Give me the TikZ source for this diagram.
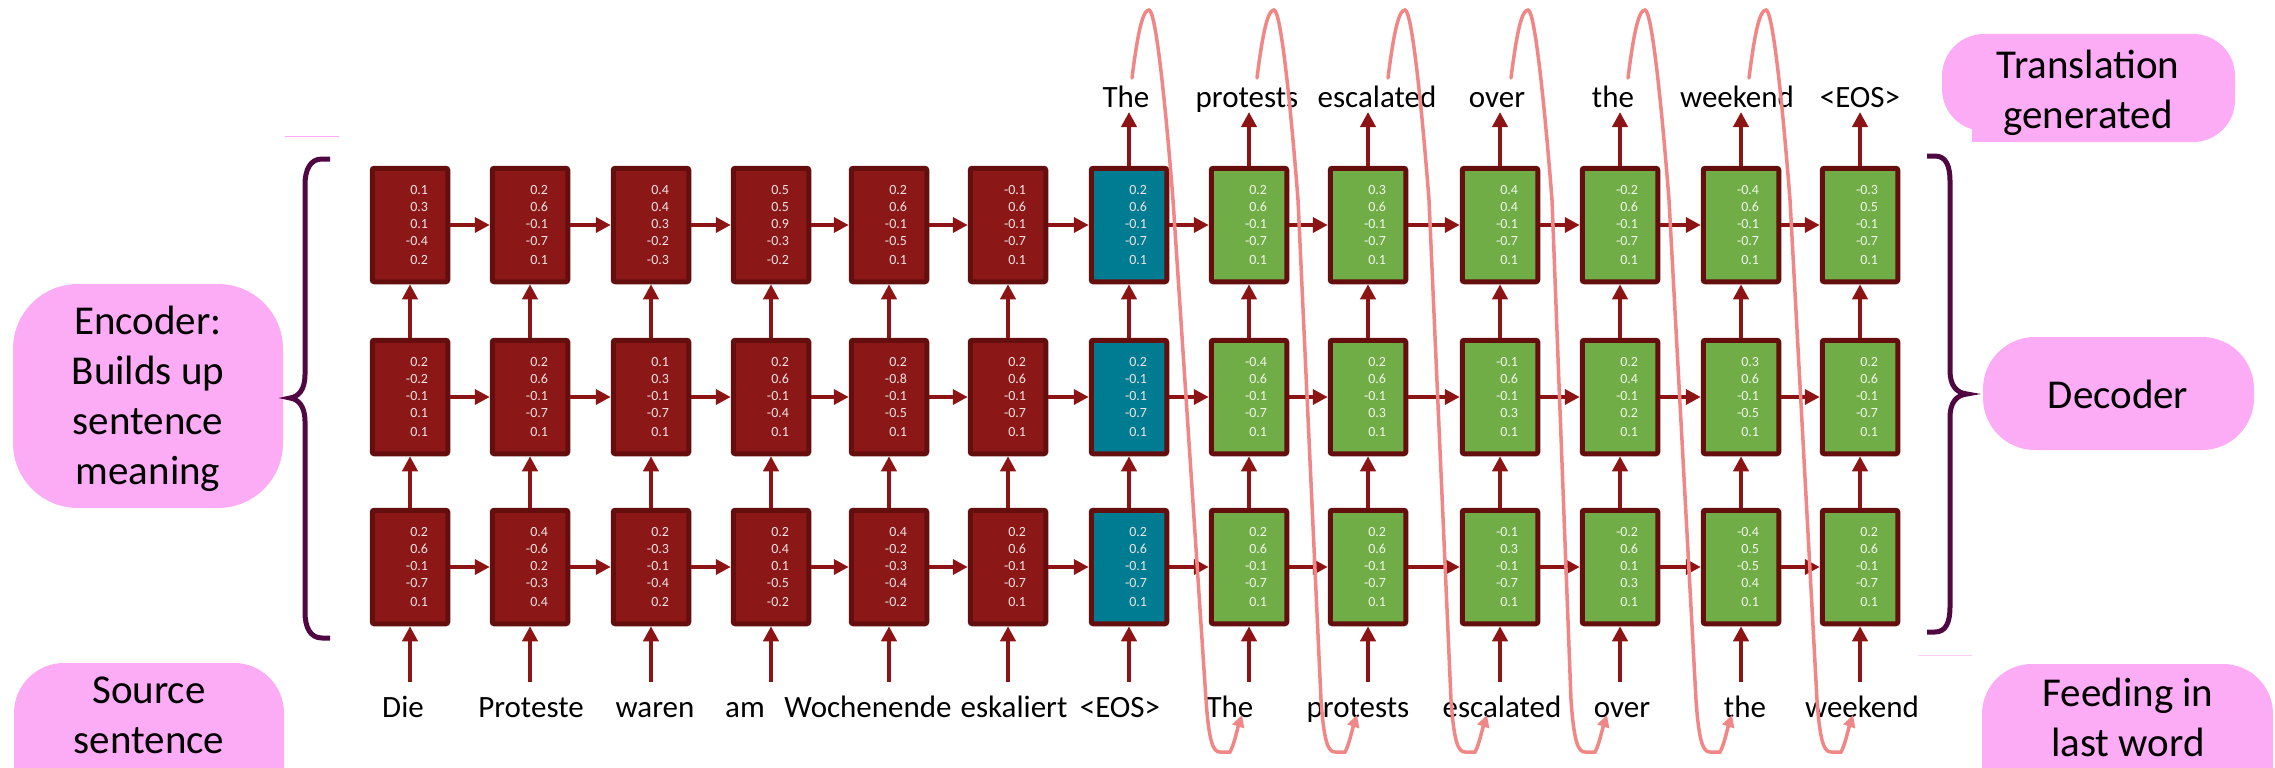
\documentclass[tikz,border=0pt]{standalone}
\usepackage{fontspec}
\setmainfont{Carlito}
\usetikzlibrary{arrows.meta}
\definecolor{encf}{RGB}{139,23,23}
\definecolor{tealf}{RGB}{0,124,146}
\definecolor{grnf}{RGB}{112,173,71}
\definecolor{bordc}{RGB}{100,14,14}
\definecolor{arrc}{RGB}{140,20,20}
\definecolor{numE}{RGB}{240,228,228}
\definecolor{numG}{RGB}{242,248,236}
\definecolor{pinkc}{RGB}{252,171,245}
\definecolor{curvc}{RGB}{240,134,134}
\definecolor{bracec}{RGB}{80,8,66}
\newcommand\vv[5]{#1\\#2\\#3\\#4\\[2pt]#5}
\tikzset{
 box/.style={draw=bordc, line width=5pt, rounded corners=2pt, minimum width=75.5pt, minimum height=113.5pt, text width=36pt, inner xsep=19.75pt, inner ysep=0pt, align=right, font=\fontsize{14}{17}\selectfont},
 enc/.style={fill=encf, text=numE},
 tea/.style={fill=tealf, text=numE},
 grn/.style={fill=grnf, text=numG},
 arr/.style={draw=arrc, line width=4pt, -{Triangle[length=15pt,width=15pt]}},
 word/.style={anchor=base, inner sep=0pt, font=\fontsize{31}{37}\selectfont},
 pill/.style={fill=pinkc},
 ptext/.style={font=\fontsize{41}{50}\selectfont, align=center, inner sep=0pt, anchor=north},
 curve/.style={draw=curvc, line width=3.5pt, line cap=round, -{Triangle[length=12pt,width=12pt]}},
 brace/.style={draw=bracec, line width=5pt},
}
\begin{document}
\begin{tikzpicture}[x=1pt,y=-1pt]
\useasboundingbox (0,0) rectangle (2275,768);
\clip (0,0) rectangle (2275,768);
% pills
\fill[pill, rounded corners=65pt] (13,284) rectangle (283,508);
\node[ptext] (encl) at (148,306) {Encoder:\\Builds up\\sentence\\meaning};
\fill[pill, rounded corners=50pt] (14,663) rectangle (284,840);
\node[ptext] (srcl) at (149,677) {Source\\sentence};
\fill[pill, rounded corners=42pt] (1942,34) rectangle (2235,131);
\fill[pill, rounded corners=42pt] (1972,50) rectangle (2235,142);
\fill[pill] (1972,100) rectangle (2010,142);
\node[ptext] (trl) at (2088,50) {Translation\\generated};
\fill[pill, rounded corners=52pt] (1983,337) rectangle (2254,450);
\node[ptext] (decl) at (2118,380) {Decoder};
\fill[pill, rounded corners=50pt] (1982,664) rectangle (2273,840);
\node[ptext] (feedl) at (2128,678) {Feeding in\\last word};
\draw[pinkc, line width=1pt] (285,136) -- (339,136);
\draw[pinkc!60, line width=1pt] (1918,655) -- (1972,655);
% braces
\draw[brace] (330,159) -- (322,159) .. controls (310,159) and (305,170) .. (305,185) -- (305,375) .. controls (305,390) and (298,397) .. (290,398) .. controls (298,399) and (305,406) .. (305,421) -- (305,612) .. controls (305,627) and (310,638) .. (322,638) -- (330,638);
\draw[brace] (1927,156) -- (1935,156) .. controls (1946,156) and (1950,166) .. (1950,181) -- (1950,371) .. controls (1950,386) and (1957,393) .. (1967,394) .. controls (1957,395) and (1950,402) .. (1950,417) -- (1950,607) .. controls (1950,622) and (1946,632) .. (1935,632) -- (1927,632);
% top row
\foreach \c/\x/\s/\v in {
 0/410/enc/{\vv{0.1}{0.3}{0.1}{-0.4}{0.2}},
 1/530/enc/{\vv{0.2}{0.6}{-0.1}{-0.7}{0.1}},
 2/651/enc/{\vv{0.4}{0.4}{0.3}{-0.2}{-0.3}},
 3/771/enc/{\vv{0.5}{0.5}{0.9}{-0.3}{-0.2}},
 4/889/enc/{\vv{0.2}{0.6}{-0.1}{-0.5}{0.1}},
 5/1008/enc/{\vv{-0.1}{0.6}{-0.1}{-0.7}{0.1}},
 6/1129/tea/{\vv{0.2}{0.6}{-0.1}{-0.7}{0.1}},
 7/1249/grn/{\vv{0.2}{0.6}{-0.1}{-0.7}{0.1}},
 8/1368/grn/{\vv{0.3}{0.6}{-0.1}{-0.7}{0.1}},
 9/1500/grn/{\vv{0.4}{0.4}{-0.1}{-0.7}{0.1}},
 10/1620/grn/{\vv{-0.2}{0.6}{-0.1}{-0.7}{0.1}},
 11/1741/grn/{\vv{-0.4}{0.6}{-0.1}{-0.7}{0.1}},
 12/1860/grn/{\vv{-0.3}{0.5}{-0.1}{-0.7}{0.1}}}
 \node[box,\s] (b3-\c) at (\x,225) {\v};
% middle row
\foreach \c/\x/\s/\v in {
 0/410/enc/{\vv{0.2}{-0.2}{-0.1}{0.1}{0.1}},
 1/530/enc/{\vv{0.2}{0.6}{-0.1}{-0.7}{0.1}},
 2/651/enc/{\vv{0.1}{0.3}{-0.1}{-0.7}{0.1}},
 3/771/enc/{\vv{0.2}{0.6}{-0.1}{-0.4}{0.1}},
 4/889/enc/{\vv{0.2}{-0.8}{-0.1}{-0.5}{0.1}},
 5/1008/enc/{\vv{0.2}{0.6}{-0.1}{-0.7}{0.1}},
 6/1129/tea/{\vv{0.2}{-0.1}{-0.1}{-0.7}{0.1}},
 7/1249/grn/{\vv{-0.4}{0.6}{-0.1}{-0.7}{0.1}},
 8/1368/grn/{\vv{0.2}{0.6}{-0.1}{0.3}{0.1}},
 9/1500/grn/{\vv{-0.1}{0.6}{-0.1}{0.3}{0.1}},
 10/1620/grn/{\vv{0.2}{0.4}{-0.1}{0.2}{0.1}},
 11/1741/grn/{\vv{0.3}{0.6}{-0.1}{-0.5}{0.1}},
 12/1860/grn/{\vv{0.2}{0.6}{-0.1}{-0.7}{0.1}}}
 \node[box,\s] (b2-\c) at (\x,397) {\v};
% bottom row
\foreach \c/\x/\s/\v in {
 0/410/enc/{\vv{0.2}{0.6}{-0.1}{-0.7}{0.1}},
 1/530/enc/{\vv{0.4}{-0.6}{0.2}{-0.3}{0.4}},
 2/651/enc/{\vv{0.2}{-0.3}{-0.1}{-0.4}{0.2}},
 3/771/enc/{\vv{0.2}{0.4}{0.1}{-0.5}{-0.2}},
 4/889/enc/{\vv{0.4}{-0.2}{-0.3}{-0.4}{-0.2}},
 5/1008/enc/{\vv{0.2}{0.6}{-0.1}{-0.7}{0.1}},
 6/1129/tea/{\vv{0.2}{0.6}{-0.1}{-0.7}{0.1}},
 7/1249/grn/{\vv{0.2}{0.6}{-0.1}{-0.7}{0.1}},
 8/1368/grn/{\vv{0.2}{0.6}{-0.1}{-0.7}{0.1}},
 9/1500/grn/{\vv{-0.1}{0.3}{-0.1}{-0.7}{0.1}},
 10/1620/grn/{\vv{-0.2}{0.6}{0.1}{0.3}{0.1}},
 11/1741/grn/{\vv{-0.4}{0.5}{-0.5}{0.4}{0.1}},
 12/1860/grn/{\vv{0.2}{0.6}{-0.1}{-0.7}{0.1}}}
 \node[box,\s] (b1-\c) at (\x,567) {\v};
% horizontal arrows
\foreach \r in {1,2,3}{
 \foreach \c in {0,...,11}{
  \pgfmathtruncatemacro\n{\c+1}
  \draw[arr] (b\r-\c.east) -- (b\r-\n.west);
 }}
% vertical arrows
\foreach \c/\x in {0/410,1/530,2/651,3/771,4/889,5/1008,6/1129,7/1249,8/1368,9/1500,10/1620,11/1741,12/1860}{
 \coordinate (t\c) at (\x,682);
 \draw[arr] (t\c) -- (b1-\c.south);
 \draw[arr] (b1-\c.north) -- (b2-\c.south);
 \draw[arr] (b2-\c.north) -- (b3-\c.south);
}
\foreach \c/\x in {6/1129,7/1249,8/1368,9/1500,10/1620,11/1741,12/1860}{
 \coordinate (o\c) at (\x,112);
 \draw[arr] (b3-\c.north) -- (o\c);
}
% words
\foreach \i/\x/\w in {0/403/Die,1/531/Proteste,2/655/waren,3/745/am,4/868/Wochenende,5/1014/eskaliert,6/1120/<EOS>,7/1230/The,8/1358/protests,9/1502/escalated,10/1622/over,11/1745/the,12/1862/weekend}
 \node[word] (in\i) at (\x,717) {\w};
\foreach \i/\x/\w in {6/1126/The,7/1247/protests,8/1377/escalated,9/1497/over,10/1613/the,11/1737/weekend,12/1860/<EOS>}
 \node[word] (out\i) at (\x,107) {\w};
% feedback curves
\foreach \i/\p/\t in {6/1149/1242,7/1274/1357,8/1405/1487,9/1528/1607,10/1645/1732,11/1766/1853}{
 \coordinate (cs\i) at ({\p-17},78);
 \coordinate (ce\i) at (\t,715);
 \draw[curve] (cs\i) .. controls ({\p-11},30) and ({\p-6},10) .. (\p,10) .. controls ({\p+7},10) and ({\p+17},110) .. ({\p+24},200) -- ({\t-36},700) .. controls ({\t-33},742) and ({\t-29},752) .. ({\t-22},752) -- ({\t-12},752) .. controls ({\t-8},745) and ({\t-5},730) .. (ce\i);
}
\end{tikzpicture}
\end{document}
